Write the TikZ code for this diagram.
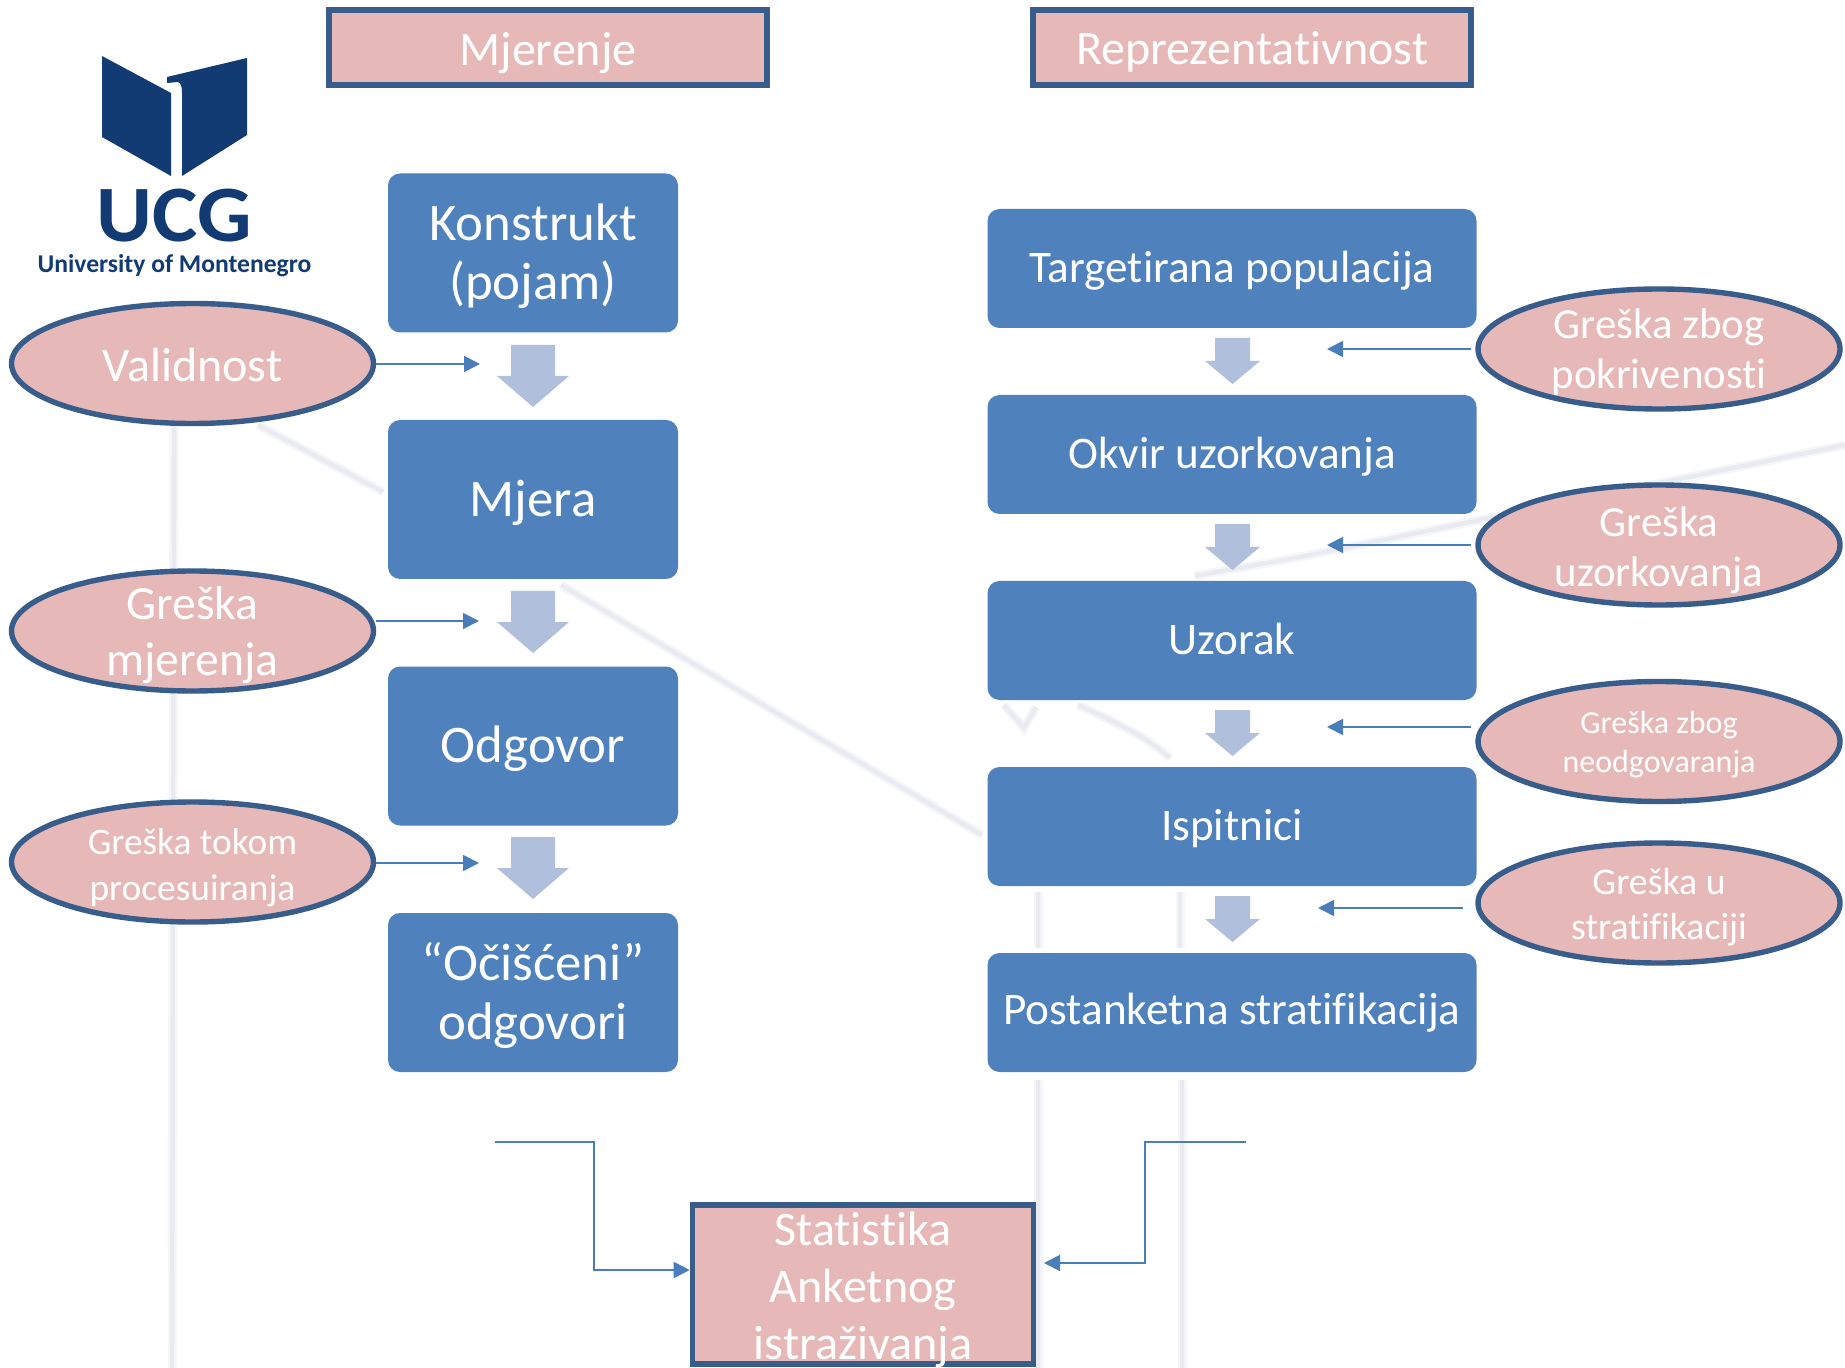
\documentclass[tikz,border=0pt]{standalone}
\usepackage{fontspec}
\setmainfont[Ligatures=NoCommon]{Carlito}
\usepackage{graphicx}
\usetikzlibrary{shapes.geometric,arrows.meta}
\definecolor{boxblue}{HTML}{4F81BD}
\definecolor{pinkfill}{HTML}{E6B8B7}
\definecolor{edgeblue}{HTML}{385D8A}
\definecolor{arrowlight}{HTML}{B0C0DC}
\definecolor{lineblue}{HTML}{4A7EBB}
\definecolor{logoblue}{HTML}{123B73}
\definecolor{ghostsoft}{HTML}{F5F6F9}
\definecolor{ghostcore}{HTML}{E9EBF0}
\newcommand{\lo}[2][1.5pt]{\raisebox{-#1}[\height][\depth]{#2}}
\tikzset{
  flow/.style={draw=none,fill=boxblue,rounded corners=6pt,text=white,align=center,inner sep=0pt},
  pinkbox/.style={draw=edgeblue,fill=pinkfill,line width=2.8pt,text=white,align=center,inner sep=0pt},
  pinkoval/.style={ellipse,draw=edgeblue,fill=pinkfill,line width=2.7pt,inner sep=0pt,minimum width=181pt,minimum height=60pt},
  ovaltext/.style={text=white,align=center,inner sep=0pt},
  conn/.style={draw=lineblue,line width=0.9pt,-{Triangle[length=8pt,width=8pt,fill=lineblue]}},
  ghostwide/.style={draw=ghostsoft,line width=4.5pt},
  ghostnarrow/.style={draw=ghostcore,line width=2.2pt},
  bigtxt/.style={font=\fontsize{26.4}{29.5}\selectfont},
  midtxt/.style={font=\fontsize{22.6}{27}\selectfont},
}
\begin{document}
\begin{tikzpicture}[x=0.5pt,y=-0.5pt]
\useasboundingbox (0,0) rectangle (1845,1368);
\fill[white] (0,0) rectangle (1845,1368);
% watermark
\foreach \gs in {ghostwide,ghostnarrow}{
  \draw[\gs] (174,426) -- (172,1368);
  \draw[\gs] (258,425) -- (383,492);
  \draw[\gs] (561,585) -- (982,835);
  \draw[\gs] (1038,892) -- (1038,948);
  \draw[\gs] (1180,892) -- (1180,948);
  \draw[\gs] (1038,1080) -- (1038,1368);
  \draw[\gs] (1182,1080) -- (1182,1368);
  \draw[\gs] (1845,445) -- (1300,557) -- (1195,576);
  \draw[\gs] (1004,705) -- (1024,728) -- (1036,707);
  \draw[\gs] (1078,705) .. controls (1110,720) and (1145,735) .. (1170,758);
}
% logo
\fill[logoblue] (102,56) -- (171,93) -- (171,176) -- (102,137) -- cycle;
\fill[logoblue] (167,77) -- (247,58) -- (247,135) -- (182,176) -- (182,93) .. controls (182,87) and (181,83) .. (178,82) -- (167,83) -- cycle;
\node[inner sep=0pt,text=logoblue,font=\fontsize{40}{40}\bfseries\selectfont] (ucg) at (174.5,216) {\scalebox{1.07}[1]{UCG}};
\node[inner sep=0pt,text=logoblue,font=\fontsize{12.8}{13}\bfseries\selectfont] (univ) at (174.5,266) {University of Montenegro};
% headers
\node[pinkbox,minimum width=219pt,minimum height=37.5pt,font=\fontsize{24}{28}\selectfont] (mj) at (548,47.5) {\lo[2.7pt]{Mjerenje}};
\node[pinkbox,minimum width=219pt,minimum height=37.5pt,font=\fontsize{24}{28}\selectfont] (rep) at (1252,47.5) {\lo[2.1pt]{Reprezentativnost}};
% left flow
\node[flow,bigtxt,minimum width=145pt,minimum height=79.5pt] (k) at (533,253) {\lo{Konstrukt}\\\lo{(pojam)}};
\node[flow,bigtxt,minimum width=145pt,minimum height=79.5pt] (m) at (533,499.5) {\lo{Mjera}};
\node[flow,bigtxt,minimum width=145pt,minimum height=79.5pt] (o) at (533,746) {\lo{Odgovor}};
\node[flow,bigtxt,minimum width=145pt,minimum height=79.5pt] (c) at (533,992.5) {\lo{“Očišćeni”}\\\lo{odgovori}};
\foreach \t/\s in {345/376,591/622,837/868}{
  \fill[arrowlight] (511,\t) -- (555,\t) -- (555,\s) -- (569,\s) -- (533,\t+62) -- (497,\s) -- (511,\s) -- cycle;
}
% right flow
\node[flow,midtxt,minimum width=244.5pt,minimum height=59.5pt] (t) at (1232,268.5) {\lo[0.9pt]{Targetirana populacija}};
\node[flow,midtxt,minimum width=244.5pt,minimum height=59.5pt] (u) at (1232,454.5) {\lo[0.9pt]{Okvir uzorkovanja}};
\node[flow,midtxt,minimum width=244.5pt,minimum height=59.5pt] (z) at (1232,640.5) {\lo[-0.85pt]{Uzorak}};
\node[flow,midtxt,minimum width=244.5pt,minimum height=59.5pt] (i) at (1232,826.5) {\lo[0.9pt]{Ispitnici}};
\node[flow,midtxt,minimum width=244.5pt,minimum height=59.5pt] (p) at (1232,1012.5) {\lo[0.3pt]{Postanketna stratifikacija}};
\foreach \t/\s in {338/361,524/547,710/733,896/919}{
  \fill[arrowlight] (1215,\t) -- (1250,\t) -- (1250,\s) -- (1260,\s) -- (1232.5,\t+46) -- (1205,\s) -- (1215,\s) -- cycle;
}
% left ovals
\node[pinkoval] (val) at (192.5,363.5) {};
\node[ovaltext,font=\fontsize{24}{28}\selectfont] (valt) at (val.center) {\lo[0.9pt]{Validnost}};
\node[pinkoval] (gm) at (192.5,631) {};
\node[ovaltext,font=\fontsize{23.8}{28}\selectfont] (gmt) at (gm.center) {\lo[2.1pt]{Greška}\\\lo[2.1pt]{mjerenja}};
\node[pinkoval] (gp) at (192.5,862) {};
\node[ovaltext,font=\fontsize{18.7}{23}\selectfont] (gpt) at (gp.center) {\lo[2.7pt]{Greška tokom}\\\lo[2.7pt]{procesuiranja}};
% right ovals
\node[pinkoval] (gz) at (1659,349) {};
\node[ovaltext,font=\fontsize{21.4}{25.3}\selectfont] (gzt) at (gz.center) {\lo{Greška zbog}\\\lo{pokrivenosti}};
\node[pinkoval] (gu) at (1659,545) {};
\node[ovaltext,font=\fontsize{21.4}{25.3}\selectfont] (gut) at (gu.center) {\lo[2.7pt]{Greška}\\\lo[2.7pt]{uzorkovanja}};
\node[pinkoval] (gn) at (1659,741.5) {};
\node[ovaltext,font=\fontsize{16}{19.4}\selectfont] (gnt) at (gn.center) {\lo{Greška zbog}\\\lo{neodgovaranja}};
\node[pinkoval] (gs) at (1659,903) {};
\node[ovaltext,font=\fontsize{18.9}{22.4}\selectfont] (gst) at (gs.center) {\lo[2.1pt]{Greška u}\\\lo[2.1pt]{stratifikaciji}};
% stat
\node[pinkbox,minimum width=170.5pt,minimum height=79.5pt,font=\fontsize{24.1}{28.3}\selectfont] (st) at (863,1284.5) {\lo[2.7pt]{Statistika}\\\lo[2.7pt]{Anketnog}\\\lo[2.7pt]{istraživanja}};
% connectors
\coordinate (a1) at (480,364); \coordinate (a2) at (479,621); \coordinate (a3) at (479,863);
\draw[conn] (val.east|-a1) -- (a1);
\draw[conn] (gm.east|-a2) -- (a2);
\draw[conn] (gp.east|-a3) -- (a3);
\coordinate (b1s) at (1471,349); \coordinate (b1e) at (1327,349);
\coordinate (b2s) at (1471,545); \coordinate (b2e) at (1327,545);
\coordinate (b3s) at (1471,727); \coordinate (b3e) at (1327,727);
\coordinate (b4s) at (1463,908); \coordinate (b4e) at (1318,908);
\draw[conn] (b1s) -- (b1e);
\draw[conn] (b2s) -- (b2e);
\draw[conn] (b3s) -- (b3e);
\draw[conn] (b4s) -- (b4e);
\coordinate (l0) at (495,1142); \coordinate (l1) at (594,1142);
\coordinate (l2) at (594,1270);
\draw[conn] (l0) -- (l1) -- (l2) -- (st.west|-l2);
\coordinate (r0) at (1246,1142); \coordinate (r1) at (1145,1142);
\coordinate (r2) at (1145,1263); \coordinate (r3) at (1044,1263);
\draw[conn] (r0) -- (r1) -- (r2) -- (r3);
\end{tikzpicture}
\end{document}
